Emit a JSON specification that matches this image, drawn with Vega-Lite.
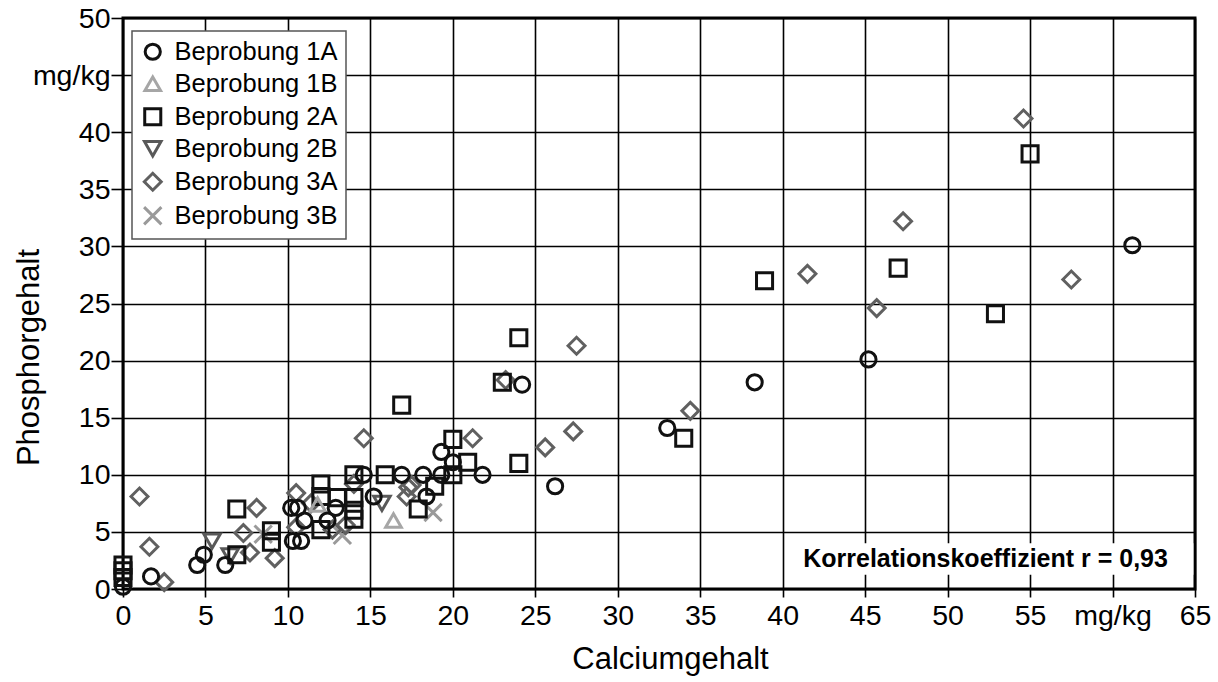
{
  "$schema": "https://vega.github.io/schema/vega-lite/v6.json",
  "width": 1072,
  "height": 571,
  "autosize": {"type": "none"},
  "padding": {"left": 123, "top": 18, "right": 23, "bottom": 93},
  "background": "white",
  "config": {
    "font": "Liberation Sans",
    "view": {"stroke": "black", "strokeWidth": 3},
    "axis": {
      "domain": false,
      "gridColor": "black",
      "gridWidth": 1.6,
      "gridOpacity": 1,
      "tickColor": "black",
      "tickWidth": 1.6,
      "labelColor": "black",
      "labelFont": "Liberation Sans",
      "labelFontSize": 28.5,
      "titleFont": "Liberation Sans",
      "titleFontSize": 31,
      "titleFontWeight": "normal",
      "titleColor": "black"
    },
    "legend": {
      "orient": "none",
      "legendX": 9,
      "legendY": 13,
      "strokeColor": "#555",
      "strokeWidth": 1.5,
      "fillColor": "white",
      "padding": 8,
      "labelFont": "Liberation Sans",
      "labelFontSize": 25.5,
      "labelLimit": 400,
      "labelColor": "black",
      "labelOffset": 9,
      "rowPadding": 4,
      "symbolStrokeWidth": 3
    }
  },
  "datasets": {
    "pts": [
      {"s": "Beprobung 1A", "ca": 0, "p": 0.2},
      {"s": "Beprobung 1A", "ca": 1.7, "p": 1.1},
      {"s": "Beprobung 1A", "ca": 4.5, "p": 2.1},
      {"s": "Beprobung 1A", "ca": 4.9, "p": 3.0},
      {"s": "Beprobung 1A", "ca": 6.2, "p": 2.1},
      {"s": "Beprobung 1A", "ca": 10.2, "p": 7.1},
      {"s": "Beprobung 1A", "ca": 10.6, "p": 7.1},
      {"s": "Beprobung 1A", "ca": 10.3, "p": 4.2},
      {"s": "Beprobung 1A", "ca": 10.8, "p": 4.2},
      {"s": "Beprobung 1A", "ca": 11.0, "p": 6.0},
      {"s": "Beprobung 1A", "ca": 12.4, "p": 6.0},
      {"s": "Beprobung 1A", "ca": 12.9, "p": 7.1},
      {"s": "Beprobung 1A", "ca": 14.6, "p": 10.0},
      {"s": "Beprobung 1A", "ca": 15.2, "p": 8.1},
      {"s": "Beprobung 1A", "ca": 16.9, "p": 10.0},
      {"s": "Beprobung 1A", "ca": 18.2, "p": 10.0},
      {"s": "Beprobung 1A", "ca": 19.3, "p": 10.0},
      {"s": "Beprobung 1A", "ca": 19.3, "p": 12.0},
      {"s": "Beprobung 1A", "ca": 20.0, "p": 11.1},
      {"s": "Beprobung 1A", "ca": 18.4, "p": 8.1},
      {"s": "Beprobung 1A", "ca": 21.8, "p": 10.0},
      {"s": "Beprobung 1A", "ca": 26.2, "p": 9.0},
      {"s": "Beprobung 1A", "ca": 24.2, "p": 17.9},
      {"s": "Beprobung 1A", "ca": 33.0, "p": 14.1},
      {"s": "Beprobung 1A", "ca": 38.3, "p": 18.1},
      {"s": "Beprobung 1A", "ca": 45.2, "p": 20.1},
      {"s": "Beprobung 1A", "ca": 61.2, "p": 30.1},
      {"s": "Beprobung 1B", "ca": 16.4, "p": 6.0},
      {"s": "Beprobung 1B", "ca": 11.8, "p": 7.4},
      {"s": "Beprobung 2A", "ca": 0, "p": 1.0},
      {"s": "Beprobung 2A", "ca": 0, "p": 1.6},
      {"s": "Beprobung 2A", "ca": 0, "p": 2.1},
      {"s": "Beprobung 2A", "ca": 6.9, "p": 7.0},
      {"s": "Beprobung 2A", "ca": 6.9, "p": 3.0},
      {"s": "Beprobung 2A", "ca": 9.0, "p": 5.1},
      {"s": "Beprobung 2A", "ca": 9.0, "p": 4.1},
      {"s": "Beprobung 2A", "ca": 12.0, "p": 9.2},
      {"s": "Beprobung 2A", "ca": 12.0, "p": 8.1},
      {"s": "Beprobung 2A", "ca": 12.0, "p": 5.2},
      {"s": "Beprobung 2A", "ca": 13.0, "p": 8.0},
      {"s": "Beprobung 2A", "ca": 14.0, "p": 10.0},
      {"s": "Beprobung 2A", "ca": 14.0, "p": 8.0},
      {"s": "Beprobung 2A", "ca": 14.0, "p": 6.9},
      {"s": "Beprobung 2A", "ca": 14.0, "p": 6.1},
      {"s": "Beprobung 2A", "ca": 15.9, "p": 10.0},
      {"s": "Beprobung 2A", "ca": 16.9, "p": 16.1},
      {"s": "Beprobung 2A", "ca": 17.9, "p": 7.0},
      {"s": "Beprobung 2A", "ca": 18.9, "p": 9.0},
      {"s": "Beprobung 2A", "ca": 20.0, "p": 13.1},
      {"s": "Beprobung 2A", "ca": 20.0, "p": 10.0},
      {"s": "Beprobung 2A", "ca": 20.9, "p": 11.1},
      {"s": "Beprobung 2A", "ca": 23.0, "p": 18.1},
      {"s": "Beprobung 2A", "ca": 24.0, "p": 22.0},
      {"s": "Beprobung 2A", "ca": 24.0, "p": 11.0},
      {"s": "Beprobung 2A", "ca": 34.0, "p": 13.2},
      {"s": "Beprobung 2A", "ca": 38.9, "p": 27.0},
      {"s": "Beprobung 2A", "ca": 47.0, "p": 28.1},
      {"s": "Beprobung 2A", "ca": 52.9, "p": 24.1},
      {"s": "Beprobung 2A", "ca": 55.0, "p": 38.1},
      {"s": "Beprobung 2B", "ca": 5.4, "p": 4.2},
      {"s": "Beprobung 2B", "ca": 6.5, "p": 2.9},
      {"s": "Beprobung 2B", "ca": 15.7, "p": 7.5},
      {"s": "Beprobung 3A", "ca": 1.0, "p": 8.1},
      {"s": "Beprobung 3A", "ca": 1.6, "p": 3.7},
      {"s": "Beprobung 3A", "ca": 2.5, "p": 0.6},
      {"s": "Beprobung 3A", "ca": 7.3, "p": 4.9},
      {"s": "Beprobung 3A", "ca": 7.7, "p": 3.2},
      {"s": "Beprobung 3A", "ca": 8.1, "p": 7.1},
      {"s": "Beprobung 3A", "ca": 9.2, "p": 2.7},
      {"s": "Beprobung 3A", "ca": 10.5, "p": 8.4},
      {"s": "Beprobung 3A", "ca": 10.5, "p": 5.4},
      {"s": "Beprobung 3A", "ca": 11.4, "p": 7.5},
      {"s": "Beprobung 3A", "ca": 12.7, "p": 5.2},
      {"s": "Beprobung 3A", "ca": 13.5, "p": 5.6},
      {"s": "Beprobung 3A", "ca": 14.0, "p": 9.2},
      {"s": "Beprobung 3A", "ca": 14.6, "p": 13.2},
      {"s": "Beprobung 3A", "ca": 17.3, "p": 8.9},
      {"s": "Beprobung 3A", "ca": 17.5, "p": 9.1},
      {"s": "Beprobung 3A", "ca": 17.2, "p": 8.1},
      {"s": "Beprobung 3A", "ca": 21.2, "p": 13.2},
      {"s": "Beprobung 3A", "ca": 23.2, "p": 18.3},
      {"s": "Beprobung 3A", "ca": 25.6, "p": 12.4},
      {"s": "Beprobung 3A", "ca": 27.3, "p": 13.8},
      {"s": "Beprobung 3A", "ca": 27.5, "p": 21.3},
      {"s": "Beprobung 3A", "ca": 34.4, "p": 15.6},
      {"s": "Beprobung 3A", "ca": 41.5, "p": 27.6},
      {"s": "Beprobung 3A", "ca": 45.7, "p": 24.6},
      {"s": "Beprobung 3A", "ca": 47.3, "p": 32.2},
      {"s": "Beprobung 3A", "ca": 54.6, "p": 41.2},
      {"s": "Beprobung 3A", "ca": 57.5, "p": 27.1},
      {"s": "Beprobung 3B", "ca": 8.5, "p": 4.8},
      {"s": "Beprobung 3B", "ca": 13.3, "p": 4.7},
      {"s": "Beprobung 3B", "ca": 18.8, "p": 6.7}
    ]
  },
  "layer": [
    {
      "data": {"name": "pts"},
      "mark": {"type": "point", "filled": false, "strokeWidth": 3, "opacity": 1},
      "encoding": {
        "x": {
          "field": "ca", "type": "quantitative",
          "scale": {"domain": [0, 65], "nice": false, "zero": true},
          "axis": {
            "title": "Calciumgehalt",
            "values": [0, 5, 10, 15, 20, 25, 30, 35, 40, 45, 50, 55, 60, 65],
            "labelExpr": "datum.value == 60 ? 'mg/kg' : datum.label",
            "tickSize": 8,
            "labelPadding": 4,
            "labelFlush": false,
            "labelOverlap": false,
            "titleX": 547,
            "titleY": 55
          }
        },
        "y": {
          "field": "p", "type": "quantitative",
          "scale": {"domain": [0, 50], "nice": false, "zero": true},
          "axis": {
            "title": "Phosphorgehalt",
            "values": [0, 5, 10, 15, 20, 25, 30, 35, 40, 45, 50],
            "labelExpr": "datum.value == 45 ? 'mg/kg' : datum.label",
            "tickSize": 12,
            "labelPadding": 1,
            "labelFlush": false,
            "labelOverlap": false,
            "titleX": -78,
            "titleY": 339
          }
        },
        "color": {
          "field": "s", "type": "nominal",
          "scale": {
            "domain": ["Beprobung 1A", "Beprobung 1B", "Beprobung 2A", "Beprobung 2B", "Beprobung 3A", "Beprobung 3B"],
            "range": ["#111111", "#a6a6a6", "#111111", "#595959", "#606060", "#9a9a9a"]
          },
          "legend": {"title": null}
        },
        "shape": {
          "field": "s", "type": "nominal",
          "scale": {
            "domain": ["Beprobung 1A", "Beprobung 1B", "Beprobung 2A", "Beprobung 2B", "Beprobung 3A", "Beprobung 3B"],
            "range": ["circle", "triangle-up", "square", "triangle-down", "diamond", "M-1,-1L1,1M-1,1L1,-1"]
          },
          "legend": {"title": null}
        },
        "size": {
          "field": "s", "type": "nominal",
          "scale": {
            "domain": ["Beprobung 1A", "Beprobung 1B", "Beprobung 2A", "Beprobung 2B", "Beprobung 3A", "Beprobung 3B"],
            "range": [230, 300, 250, 300, 500, 300]
          },
          "legend": {"title": null}
        },
        "order": {"field": "s", "sort": "descending"}
      }
    },
    {
      "data": {"values": [{}]},
      "mark": {"type": "rect", "fill": "white", "stroke": null},
      "encoding": {
        "x": {"datum": 40.15, "type": "quantitative"},
        "x2": {"datum": 64.9},
        "y": {"datum": 1.25, "type": "quantitative"},
        "y2": {"datum": 4.0}
      }
    },
    {
      "data": {"values": [{}]},
      "mark": {"type": "text", "text": "Korrelationskoeffizient r = 0,93", "font": "Liberation Sans", "fontWeight": "bold", "fontSize": 25, "align": "center", "baseline": "middle", "color": "black"},
      "encoding": {
        "x": {"datum": 52.3, "type": "quantitative"},
        "y": {"datum": 2.65, "type": "quantitative"}
      }
    }
  ]
}
